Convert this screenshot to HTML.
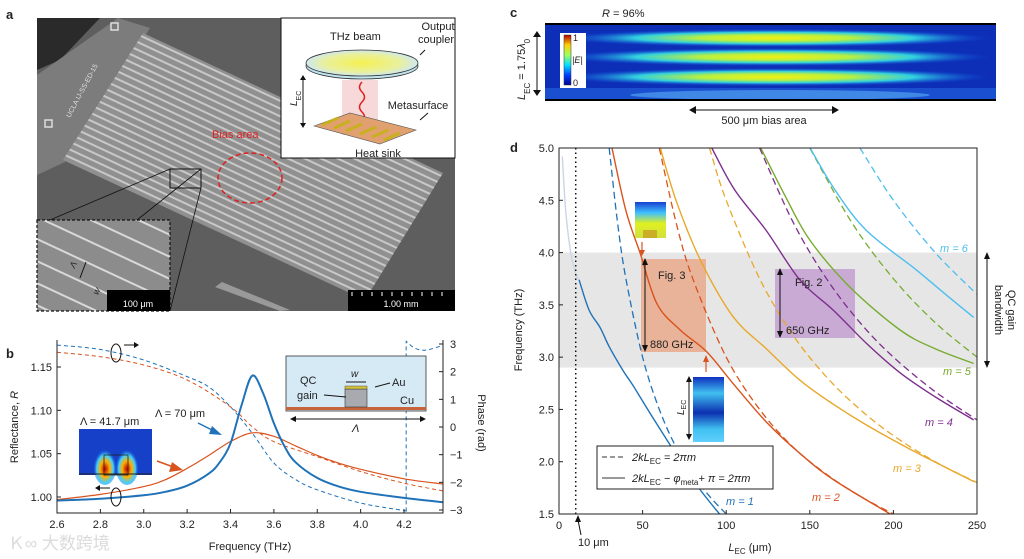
<!DOCTYPE html>
<html><head><meta charset="utf-8">
<style>
body{margin:0;background:#fff;}
svg{display:block;font-family:"Liberation Sans",sans-serif;}
text{fill:#222;}
</style></head>
<body>
<svg id="root" width="1024" height="559" viewBox="0 0 1024 559">
<defs>
  <pattern id="stripes" width="7" height="7" patternUnits="userSpaceOnUse" patternTransform="rotate(25)">
    <rect width="7" height="7" fill="#909090"/>
    <rect width="7" height="2" fill="#c8c8c8"/>
  </pattern>
  <pattern id="stripes2" width="20" height="20" patternUnits="userSpaceOnUse" patternTransform="rotate(25)">
    <rect width="20" height="20" fill="#8c8c8c"/>
    <rect width="20" height="2" fill="#d8d8d8"/>
  </pattern>
  <radialGradient id="band" cx="50%" cy="50%" r="50%">
    <stop offset="0" stop-color="#f5f010"/>
    <stop offset="0.35" stop-color="#b8f040"/>
    <stop offset="0.65" stop-color="#30d0e0"/>
    <stop offset="1" stop-color="#1050e0" stop-opacity="0"/>
  </radialGradient>
  <linearGradient id="jet" x1="0" y1="1" x2="0" y2="0">
    <stop offset="0" stop-color="#00008f"/><stop offset="0.2" stop-color="#0040ff"/>
    <stop offset="0.4" stop-color="#00e0ff"/><stop offset="0.6" stop-color="#a0ff60"/>
    <stop offset="0.8" stop-color="#ffd000"/><stop offset="1" stop-color="#b00000"/>
  </linearGradient>
  <linearGradient id="fieldA" x1="0" y1="0" x2="0" y2="1">
    <stop offset="0" stop-color="#1540d0"/><stop offset="0.3" stop-color="#40c0ff"/>
    <stop offset="0.6" stop-color="#e0f020"/><stop offset="1" stop-color="#d0e040"/>
  </linearGradient>
  <linearGradient id="fieldB" x1="0" y1="0" x2="0" y2="1">
    <stop offset="0" stop-color="#1030c0"/><stop offset="0.25" stop-color="#40c0f0"/>
    <stop offset="0.55" stop-color="#0b2fb0"/><stop offset="0.8" stop-color="#40c0f0"/><stop offset="1" stop-color="#60d0ff"/>
  </linearGradient>
  <radialGradient id="hot" cx="50%" cy="60%" r="50%">
    <stop offset="0" stop-color="#c00000"/><stop offset="0.4" stop-color="#ffb000"/>
    <stop offset="0.7" stop-color="#40d0ff"/><stop offset="1" stop-color="#1040d0" stop-opacity="0"/>
  </radialGradient>
  <radialGradient id="beam" cx="50%" cy="50%" r="50%">
    <stop offset="0" stop-color="#f6f050"/><stop offset="0.7" stop-color="#e8f0a0"/><stop offset="1" stop-color="#cfe8f0"/>
  </radialGradient>
  <clipPath id="clipC"><rect x="545" y="23" width="451" height="77"/></clipPath>
</defs>

<text x="6" y="19" font-size="13" font-weight="bold">a</text>
<text x="6" y="358" font-size="13" font-weight="bold">b</text>
<text x="510" y="17" font-size="13" font-weight="bold">c</text>
<text x="510" y="152" font-size="13" font-weight="bold">d</text>

<g>
  <rect x="37" y="18" width="418" height="293" fill="#5e5e5e"/>
  <path d="M37,18 L100,18 L60,60 L37,70Z" fill="#2a2a2a"/>
  <polygon points="37,75 118,18 150,28 65,162 37,175" fill="#7c7c7c"/>
  <polygon points="143,33 443,173 365,300 63,160" fill="url(#stripes)"/>
  <text x="70" y="118" font-size="7" transform="rotate(-62 70 118)" style="fill:#ddd">UCLA IJ-SS-ED-15</text>
  <rect x="45" y="120" width="7" height="7" fill="none" stroke="#ddd" stroke-width="1.5"/>
  <rect x="111" y="23" width="7" height="7" fill="none" stroke="#ddd" stroke-width="1.5"/>
  <polygon points="215,287 222,282 290,310 280,311" fill="#999"/>
  <rect x="170" y="169" width="31" height="19" fill="none" stroke="#111" stroke-width="1"/>
  <line x1="170" y1="169" x2="50" y2="220" stroke="#111" stroke-width="0.8"/>
  <line x1="201" y1="169" x2="137" y2="220" stroke="#111" stroke-width="0.8"/>
  <line x1="201" y1="188" x2="170" y2="311" stroke="#111" stroke-width="0.8"/>
  <ellipse cx="250" cy="178" rx="32" ry="25" fill="none" stroke="#e02020" stroke-width="1.5" stroke-dasharray="5 3"/>
  <text x="212" y="138" font-size="11" style="fill:#e02020">Bias area</text>
</g>
<g>
  <rect x="37" y="220" width="133" height="91" fill="url(#stripes2)" stroke="#111" stroke-width="1.2" stroke-dasharray="3 2"/>
  <line x1="86" y1="262" x2="80" y2="278" stroke="#111" stroke-width="1"/>
  <text x="73" y="266" font-size="9" font-style="italic" transform="rotate(-65 76 266)">Λ</text>
  <text x="92" y="294" font-size="9" font-style="italic" transform="rotate(-65 96 290)">w</text>
  <rect x="107" y="290" width="63" height="21" fill="#000"/>
  <text x="138" y="307" font-size="9" text-anchor="middle" style="fill:#fff">100 μm</text>
</g>
<rect x="348" y="290" width="107" height="21" fill="#000"/>
<text x="401" y="307" font-size="9" text-anchor="middle" style="fill:#fff">1.00 mm</text>
<g stroke="#fff" stroke-width="1">
  <line x1="352" y1="292" x2="352" y2="296"/><line x1="362" y1="292" x2="362" y2="296"/><line x1="372" y1="292" x2="372" y2="296"/><line x1="382" y1="292" x2="382" y2="296"/><line x1="392" y1="292" x2="392" y2="296"/><line x1="402" y1="292" x2="402" y2="296"/><line x1="412" y1="292" x2="412" y2="296"/><line x1="422" y1="292" x2="422" y2="296"/><line x1="432" y1="292" x2="432" y2="296"/><line x1="442" y1="292" x2="442" y2="296"/>
</g>
<g>
  <rect x="281" y="18" width="174" height="140" fill="#fff" stroke="#111" stroke-width="1"/>
  <rect x="342" y="80" width="36" height="55" fill="#f4c0c0" opacity="0.6"/>
  <ellipse cx="362" cy="66" rx="56" ry="13" fill="#bfe4ee" stroke="#333" stroke-width="0.8"/>
  <ellipse cx="362" cy="63" rx="56" ry="13" fill="url(#beam)" stroke="#333" stroke-width="0.8"/>
  <path d="M362,82 q-5,5 0,10 q5,5 0,10 q-5,5 0,10 q5,5 0,10 q-5,5 0,10" fill="none" stroke="#e02020" stroke-width="1.5"/>
  <polygon points="314,126 350,113 416,130 380,144" fill="#e0a070" stroke="#555" stroke-width="0.6"/>
  <g stroke="#c8b020" stroke-width="3"><line x1="322" y1="125" x2="338" y2="118"/><line x1="334" y1="128" x2="350" y2="121"/><line x1="346" y1="131" x2="362" y2="124"/><line x1="360" y1="134" x2="376" y2="127"/><line x1="372" y1="137" x2="388" y2="130"/><line x1="384" y1="140" x2="400" y2="133"/></g>
  <text x="330" y="40" font-size="11">THz beam</text>
  <text x="438" y="30" font-size="11" text-anchor="middle">Output</text>
  <text x="436" y="43" font-size="11" text-anchor="middle">coupler</text>
  <text x="418" y="109" font-size="11" text-anchor="middle">Metasurface</text>
  <text x="378" y="157" font-size="11" text-anchor="middle">Heat sink</text>
  <line x1="303" y1="77" x2="303" y2="126" stroke="#111" stroke-width="1"/>
  <path d="M300,80 L303,75 L306,80Z M300,123 L303,128 L306,123Z" fill="#111"/>
  <text x="297" y="106" font-size="10" font-style="italic" transform="rotate(-90 297 106)">L<tspan font-size="7" baseline-shift="sub" font-style="normal">EC</tspan></text>
  <line x1="420" y1="120" x2="428" y2="113" stroke="#111"/>
  <line x1="420" y1="55" x2="425" y2="50" stroke="#111"/>
</g>

<g>
  <g clip-path="url(#clipC)">
    <rect x="545" y="23" width="451" height="77" fill="#0d2fb8"/>
    <ellipse cx="775" cy="38" rx="215" ry="9" fill="url(#band)"/>
    <ellipse cx="775" cy="57" rx="215" ry="9" fill="url(#band)"/>
    <ellipse cx="775" cy="77" rx="215" ry="9" fill="url(#band)"/>
    <rect x="545" y="88" width="451" height="12" fill="#1a50d0"/>
    <ellipse cx="780" cy="95" rx="150" ry="5" fill="#50a0f0" opacity="0.7"/>
  </g>
  <rect x="545" y="23" width="451" height="2" fill="#000"/>
  <rect x="545" y="99" width="451" height="2" fill="#000"/>
  <rect x="560" y="33" width="26" height="55" fill="#fff"/>
  <rect x="564" y="35" width="7" height="50" fill="url(#jet)" stroke="#333" stroke-width="0.5"/>
  <text x="573" y="41" font-size="9">1</text>
  <text x="572" y="63" font-size="9" font-style="italic">|E|</text>
  <text x="573" y="86" font-size="9">0</text>
  <text x="602" y="17" font-size="11"><tspan font-style="italic">R</tspan> = 96%</text>
  <line x1="537" y1="33" x2="537" y2="94" stroke="#111" stroke-width="1"/>
  <path d="M533,37 L537,31 L541,37Z M533,90 L537,96 L541,90Z" fill="#111"/>
  <text x="525" y="100" font-size="11" transform="rotate(-90 525 100)"><tspan font-style="italic">L</tspan><tspan font-size="8" baseline-shift="sub">EC</tspan> = 1.75<tspan font-style="italic">λ</tspan><tspan font-size="8" baseline-shift="sub">0</tspan></text>
  <line x1="692" y1="110" x2="836" y2="110" stroke="#111" stroke-width="1"/>
  <path d="M696,106 L689,110 L696,114Z M832,106 L839,110 L832,114Z" fill="#111"/>
  <text x="764" y="124" font-size="11" text-anchor="middle">500 μm bias area</text>
</g>

<g id="chartB"></g>
<g id="chartD"></g>
<text x="8" y="549" font-size="17" style="fill:#ccc" opacity="0.7">Ｋ∞ 大数跨境</text>
</svg>

<script>
var bFreq = [2.6,2.8,3.0,3.1,3.2,3.3,3.35,3.4,3.45,3.5,3.55,3.6,3.65,3.7,3.8,3.9,4.0,4.2,4.38];
var bReflBlue = [0.996,0.998,1.002,1.006,1.013,1.027,1.040,1.062,1.105,1.140,1.120,1.085,1.058,1.040,1.022,1.012,1.006,0.999,0.994];
var bFreqOrange = [2.6,2.8,3.0,3.1,3.2,3.3,3.4,3.5,3.6,3.7,3.8,3.9,4.0,4.2,4.38];
var bReflOrange = [0.997,1.003,1.012,1.020,1.033,1.048,1.064,1.074,1.070,1.059,1.048,1.039,1.032,1.021,1.015];
var bPhaseFreqBlue1 = [2.6,2.8,3.0,3.2,3.3,3.4,3.5,3.6,3.7,3.8,4.0,4.2,4.21];
var bPhaseBlue1 = [2.96,2.8,2.42,1.82,1.45,0.73,-0.22,-1.3,-1.9,-2.27,-2.75,-3.02,-3.05];
var bPhaseFreqBlue2 = [4.21,4.25,4.3,4.38];
var bPhaseBlue2 = [3.1,2.85,2.78,2.95];
var bPhaseFreqOrange = [2.6,2.8,3.0,3.2,3.4,3.5,3.6,3.8,4.0,4.2,4.38];
var bPhaseOrange = [2.7,2.54,2.24,1.7,0.73,0.01,-0.53,-1.07,-1.61,-2.03,-2.31];
var bXTicks = [2.6,2.8,3.0,3.2,3.4,3.6,3.8,4.0,4.2];
var bYTicks = [1.00,1.05,1.10,1.15];
var bY2Ticks = [3,2,1,0,-1,-2,-3];

var dXTicks = [0,50,100,150,200,250];
var dYTicks = [1.5,2.0,2.5,3.0,3.5,4.0,4.5,5.0];
var dashL1 = [30,35,40,50,60,70,80,90,100];
var dashF1 = [5.0,4.29,3.75,3.0,2.5,2.14,1.88,1.67,1.5];
var dashL2 = [60,70,80,100,120,140,160,180,200];
var dashF2 = [5.0,4.29,3.75,3.0,2.5,2.14,1.88,1.67,1.5];
var dashL3 = [90,100,120,140,160,180,200,225,250];
var dashF3 = [5.0,4.5,3.75,3.21,2.81,2.5,2.25,2.0,1.8];
var dashL4 = [120,140,160,180,200,225,250];
var dashF4 = [5.0,4.29,3.75,3.33,3.0,2.67,2.4];
var dashL5 = [150,175,200,225,250];
var dashF5 = [5.0,4.29,3.75,3.33,3.0];
var dashL6 = [180,200,225,250];
var dashF6 = [5.0,4.5,4.0,3.6];
var solidL0 = [2,4,7,10,12];
var solidF0 = [4.92,4.4,4.0,3.8,3.74];
var solidL1 = [12,18,24.7,30,38,44.6,55,64.5,75,85,96];
var solidF1 = [3.74,3.45,3.28,3.1,2.88,2.72,2.45,2.21,1.95,1.72,1.5];
var solidL2 = [31.7,40,48.6,58.6,72.5,88.4,104,124,144,164,198];
var solidF2 = [5.0,4.4,3.99,3.51,3.26,3.05,2.75,2.38,2.08,1.83,1.5];
var solidL3 = [60.6,70,84.5,104,124,144,164,184,210,248];
var solidF3 = [5.0,4.5,3.93,3.39,3.08,2.78,2.55,2.35,2.12,1.81];
var solidL4 = [91.4,105,124,144,164,184,204,225,248];
var solidF4 = [5.0,4.6,4.21,3.74,3.45,3.13,2.85,2.62,2.40];
var solidL5 = [120.7,135,150,174,204,225,248];
var solidF5 = [5.0,4.55,4.12,3.67,3.26,3.08,2.94];
var solidL6 = [150.2,165,184,214,235,248];
var solidF6 = [5.0,4.6,4.21,3.83,3.55,3.38];
var modeColors = ['#c9d6e8','#1f72b8','#d9531e','#e8a82a','#7e2f8e','#77ac30','#4dbeee'];

var NS = 'http://www.w3.org/2000/svg';
function mk(parent, tag, attrs, txt){
  var e = document.createElementNS(NS, tag);
  for (var k in attrs) e.setAttribute(k, attrs[k]);
  if (txt !== undefined) e.textContent = txt;
  parent.appendChild(e); return e;
}
function smooth(pts){
  var d = 'M' + pts[0][0].toFixed(1) + ',' + pts[0][1].toFixed(1);
  for (var i = 0; i < pts.length - 1; i++){
    var p0 = pts[i-1] || pts[i], p1 = pts[i], p2 = pts[i+1], p3 = pts[i+2] || p2;
    var c1x = p1[0] + (p2[0]-p0[0])/6, c1y = p1[1] + (p2[1]-p0[1])/6;
    var c2x = p2[0] - (p3[0]-p1[0])/6, c2y = p2[1] - (p3[1]-p1[1])/6;
    d += ' C' + c1x.toFixed(1)+','+c1y.toFixed(1)+' '+c2x.toFixed(1)+','+c2y.toFixed(1)+' '+p2[0].toFixed(1)+','+p2[1].toFixed(1);
  }
  return d;
}

(function(){
  var g = document.getElementById('chartB');
  var L = 57, R = 443, T = 340, B = 513;
  function bx(f){ return 57 + (f - 2.6) * (347 / 1.6); }
  function by(r){ return 497 - (r - 1.0) * (130 / 0.15); }
  function by2(p){ return 427 - p * (83 / 3); }
  function pts(xs, ys, fy){ return xs.map(function(x,i){ return [bx(x), fy(ys[i])]; }); }

  var ln;
  ln = mk(g,'path',{d:smooth(pts(bPhaseFreqBlue1,bPhaseBlue1,by2)),fill:'none',stroke:'#1f72b8','stroke-width':1,'stroke-dasharray':'4 3'});
  
  
  ln = mk(g,'path',{d:'M'+bx(4.21)+','+by2(-3.05)+' L'+bx(4.21)+','+by2(3.1)+' '+smooth(pts(bPhaseFreqBlue2,bPhaseBlue2,by2)).slice(1).replace(/^/,'L'),fill:'none',stroke:'#1f72b8','stroke-width':1,'stroke-dasharray':'4 3'});
  
  
  ln = mk(g,'path',{d:smooth(pts(bPhaseFreqOrange,bPhaseOrange,by2)),fill:'none',stroke:'#d9531e','stroke-width':1,'stroke-dasharray':'4 3'});
  
  
  ln = mk(g,'path',{d:smooth(pts(bFreqOrange,bReflOrange,by)),fill:'none',stroke:'#d9531e','stroke-width':1.2});
  
  
  ln = mk(g,'path',{d:smooth(pts(bFreq,bReflBlue,by)),fill:'none',stroke:'#1f72b8','stroke-width':2});
  
  

  var ax = mk(g,'path',{d:'M'+L+','+T+' L'+L+','+B+' L'+R+','+B+' L'+R+','+T,fill:'none',stroke:'#222','stroke-width':1});
  
  
  bXTicks.forEach(function(t){
    var x = bx(t);
    mk(g,'line',{x1:x,y1:B,x2:x,y2:B-4,stroke:'#222'});
    var tl = mk(g,'text',{x:x,y:B+15,'font-size':11,'text-anchor':'middle'}, t.toFixed(1));
    
    
  });
  bYTicks.forEach(function(t){
    var y = by(t);
    mk(g,'line',{x1:L,y1:y,x2:L+4,y2:y,stroke:'#222'});
    var tl = mk(g,'text',{x:L-5,y:y+4,'font-size':11,'text-anchor':'end'}, t.toFixed(2));
    
    
  });
  bY2Ticks.forEach(function(t){
    var y = by2(t);
    mk(g,'line',{x1:R,y1:y,x2:R-4,y2:y,stroke:'#222'});
    var tl = mk(g,'text',{x:R+7,y:y+4,'font-size':11}, t < 0 ? '\u2212' + (-t) : String(t));
    
    
  });
  var t;
  t = mk(g,'text',{x:250,y:550,'font-size':11,'text-anchor':'middle'},'Frequency (THz)');
  
  
  t = mk(g,'text',{x:18,y:427,'font-size':11,'text-anchor':'middle',transform:'rotate(-90 18 427)'},'Reflectance, ');
  mk(t,'tspan',{'font-style':'italic'},'R');
  
  
  t = mk(g,'text',{x:478,y:423,'font-size':11,'text-anchor':'middle',transform:'rotate(90 478 423)'},'Phase (rad)');
  
  

  mk(g,'ellipse',{cx:116,cy:353,rx:5,ry:9,fill:'none',stroke:'#111'});
  mk(g,'line',{x1:124,y1:345,x2:136,y2:345,stroke:'#111'});
  mk(g,'path',{d:'M134,342 L139,345 L134,348Z',fill:'#111'});
  mk(g,'ellipse',{cx:116,cy:497,rx:5,ry:9,fill:'none',stroke:'#111'});
  mk(g,'line',{x1:98,y1:488,x2:110,y2:488,stroke:'#111'});
  mk(g,'path',{d:'M100,485 L95,488 L100,491Z',fill:'#111'});
  t = mk(g,'text',{x:80,y:425,'font-size':11},'\u039B = 41.7 \u03BCm');
  
  
  t = mk(g,'text',{x:155,y:417,'font-size':11},'\u039B = 70 \u03BCm');
  
  
  mk(g,'line',{x1:198,y1:423,x2:216,y2:432,stroke:'#1f72b8','stroke-width':1.5});
  mk(g,'path',{d:'M212,426 L222,435 L209,434Z',fill:'#1f72b8'});
  mk(g,'line',{x1:157,y1:461,x2:176,y2:468,stroke:'#d9531e','stroke-width':1.5});
  mk(g,'path',{d:'M172,462 L183,470 L169,472Z',fill:'#d9531e'});
  var fi = mk(g,'rect',{x:79,y:429,width:73,height:46,fill:'#1640c8'});
  
  
  mk(g,'ellipse',{cx:105,cy:465,rx:12,ry:20,fill:'url(#hot)'});
  mk(g,'ellipse',{cx:127,cy:465,rx:12,ry:20,fill:'url(#hot)'});
  mk(g,'rect',{x:104,y:455,width:24,height:20,fill:'none',stroke:'#222','stroke-width':0.8});
  mk(g,'line',{x1:79,y1:474,x2:152,y2:474,stroke:'#222'});
  var si = mk(g,'rect',{x:286,y:356,width:140,height:55,fill:'#d6eaf6',stroke:'#333','stroke-width':0.8});
  
  
  mk(g,'rect',{x:286,y:407,width:140,height:3,fill:'#c8643a'});
  mk(g,'rect',{x:345,y:389,width:22,height:18,fill:'#a9a9b0',stroke:'#333','stroke-width':0.6});
  mk(g,'rect',{x:345,y:386,width:22,height:3,fill:'#d6c23a',stroke:'#333','stroke-width':0.4});
  mk(g,'text',{x:300,y:384,'font-size':11},'QC');
  mk(g,'text',{x:297,y:399,'font-size':11},'gain');
  mk(g,'text',{x:351,y:377,'font-size':10,'font-style':'italic'},'w');
  mk(g,'line',{x1:346,y1:382,x2:366,y2:382,stroke:'#111'});
  mk(g,'text',{x:392,y:386,'font-size':11},'Au');
  mk(g,'line',{x1:375,y1:387,x2:390,y2:383,stroke:'#111'});
  mk(g,'text',{x:400,y:404,'font-size':11},'Cu');
  mk(g,'line',{x1:324,y1:395,x2:346,y2:397,stroke:'#111'});
  mk(g,'line',{x1:292,y1:419,x2:424,y2:419,stroke:'#111'});
  mk(g,'path',{d:'M296,416 L290,419 L296,422Z M420,416 L426,419 L420,422Z',fill:'#111'});
  mk(g,'text',{x:352,y:432,'font-size':11,'font-style':'italic'},'\u039B');
})();

(function(){
  var g = document.getElementById('chartD');
  var L = 559, R = 977, T = 148, B = 514;
  function dx(v){ return 559 + v * (418 / 250); }
  function dy(f){ return 514 - (f - 1.5) * (366 / 3.5); }
  function pts(xs, ys){ return xs.map(function(x,i){ return [dx(x), dy(ys[i])]; }); }

  var band = mk(g,'rect',{x:L,y:dy(4.0),width:R-L,height:dy(2.9)-dy(4.0),fill:'#e6e6e6'});
  
  
  var r1 = mk(g,'rect',{x:641,y:259,width:65,height:93,fill:'#e8a98a',opacity:0.85});
  
  
  var r2 = mk(g,'rect',{x:775,y:269,width:80,height:69,fill:'#c4a3d2',opacity:0.9});
  
  

  var dashedL = [dashL1,dashL2,dashL3,dashL4,dashL5,dashL6];
  var dashedF = [dashF1,dashF2,dashF3,dashF4,dashF5,dashF6];
  var solL = [solidL0,solidL1,solidL2,solidL3,solidL4,solidL5,solidL6];
  var solF = [solidF0,solidF1,solidF2,solidF3,solidF4,solidF5,solidF6];
  var clip = mk(g,'clipPath',{id:'clipD'});
  mk(clip,'rect',{x:L,y:T,width:R-L,height:B-T});
  var cg = mk(g,'g',{'clip-path':'url(#clipD)'});
  for (var i = 0; i < 6; i++){
    var p = mk(cg,'path',{d:smooth(pts(dashedL[i],dashedF[i])),fill:'none',stroke:modeColors[i+1],'stroke-width':1.3,'stroke-dasharray':'7 4'});
    
    
  }
  for (var j = 0; j < 7; j++){
    var s = mk(cg,'path',{d:smooth(pts(solL[j],solF[j])),fill:'none',stroke:modeColors[j],'stroke-width':1.4});
    
    
  }
  var vl = mk(g,'line',{x1:dx(10),y1:T,x2:dx(10),y2:B,stroke:'#111','stroke-width':1.5,'stroke-dasharray':'1.5 3'});
  
  

  var fr = mk(g,'rect',{x:L,y:T,width:R-L,height:B-T,fill:'none',stroke:'#222','stroke-width':1});
  
  
  dXTicks.forEach(function(t){
    var x = dx(t);
    mk(g,'line',{x1:x,y1:B,x2:x,y2:B-4,stroke:'#222'});
    var tl = mk(g,'text',{x:x,y:B+15,'font-size':11,'text-anchor':'middle'}, String(t));
    
    
  });
  dYTicks.forEach(function(t){
    var y = dy(t);
    mk(g,'line',{x1:L,y1:y,x2:L+4,y2:y,stroke:'#222'});
    var tl = mk(g,'text',{x:L-5,y:y+4,'font-size':11,'text-anchor':'end'}, t.toFixed(1));
    
    
  });
  var t;
  t = mk(g,'text',{x:750,y:551,'font-size':11,'text-anchor':'middle'});
  mk(t,'tspan',{'font-style':'italic'},'L');
  mk(t,'tspan',{'font-size':8,dy:3},'EC');
  mk(t,'tspan',{dy:-3},' (\u03BCm)');
  
  
  t = mk(g,'text',{x:522,y:330,'font-size':11,'text-anchor':'middle',transform:'rotate(-90 522 330)'},'Frequency (THz)');
  
  
  t = mk(g,'text',{x:578,y:546,'font-size':11},'10 \u03BCm');
  mk(g,'line',{x1:581,y1:535,x2:578,y2:520,stroke:'#111'});
  mk(g,'path',{d:'M575,522 L578,515 L581,522Z',fill:'#111'});

  var labels = [['m = 1',726,505,1],['m = 2',812,501,2],['m = 3',893,472,3],['m = 4',925,426,4],['m = 5',943,375,5],['m = 6',940,252,6]];
  labels.forEach(function(l){
    var e = mk(g,'text',{x:l[1],y:l[2],'font-size':11,'font-style':'italic',style:'fill:'+modeColors[l[3]]}, l[0]);
    
    
  });

  mk(g,'line',{x1:645,y1:262,x2:645,y2:348,stroke:'#111'});
  mk(g,'path',{d:'M642,265 L645,258 L648,265Z M642,345 L645,352 L648,345Z',fill:'#111'});
  mk(g,'text',{x:658,y:279,'font-size':11},'Fig. 3');
  mk(g,'text',{x:650,y:348,'font-size':11},'880 GHz');
  mk(g,'line',{x1:780,y1:272,x2:780,y2:334,stroke:'#111'});
  mk(g,'path',{d:'M777,275 L780,268 L783,275Z M777,331 L780,338 L783,331Z',fill:'#111'});
  mk(g,'text',{x:795,y:286,'font-size':11},'Fig. 2');
  mk(g,'text',{x:786,y:334,'font-size':11},'650 GHz');
  var i1 = mk(g,'rect',{x:635,y:202,width:31,height:36,fill:'url(#fieldA)'});
  
  
  mk(g,'rect',{x:643,y:230,width:14,height:8,fill:'#c8a020',opacity:0.8});
  mk(g,'line',{x1:642,y1:242,x2:642,y2:252,stroke:'#d9531e','stroke-width':1.2});
  mk(g,'path',{d:'M639,250 L642,256 L645,250Z',fill:'#d9531e'});
  var i2 = mk(g,'rect',{x:693,y:377,width:31,height:65,fill:'url(#fieldB)'});
  
  
  mk(g,'line',{x1:706,y1:372,x2:706,y2:360,stroke:'#d9531e','stroke-width':1.2});
  mk(g,'path',{d:'M703,362 L706,355 L709,362Z',fill:'#d9531e'});
  mk(g,'line',{x1:689,y1:379,x2:689,y2:437,stroke:'#111'});
  mk(g,'path',{d:'M686,382 L689,376 L692,382Z M686,434 L689,440 L692,434Z',fill:'#111'});
  t = mk(g,'text',{x:684,y:415,'font-size':10,'font-style':'italic',transform:'rotate(-90 684 415)'},'L');
  mk(t,'tspan',{'font-size':7,'font-style':'normal',dy:2},'EC');
  var lg = mk(g,'rect',{x:597,y:446,width:176,height:43,fill:'#fff',stroke:'#222','stroke-width':1});
  
  
  mk(g,'line',{x1:602,y1:457,x2:625,y2:457,stroke:'#333','stroke-width':1,'stroke-dasharray':'5 3'});
  mk(g,'line',{x1:602,y1:478,x2:625,y2:478,stroke:'#333','stroke-width':1});
  t = mk(g,'text',{x:632,y:461,'font-size':11,'font-style':'italic'},'2kL');
  mk(t,'tspan',{'font-size':8,'font-style':'normal',dy:3},'EC');
  mk(t,'tspan',{dy:-3},' = 2\u03C0m');
  
  
  t = mk(g,'text',{x:632,y:482,'font-size':11,'font-style':'italic'},'2kL');
  mk(t,'tspan',{'font-size':8,'font-style':'normal',dy:3},'EC');
  mk(t,'tspan',{dy:-3},' \u2212 \u03C6');
  mk(t,'tspan',{'font-size':8,'font-style':'normal',dy:3},'meta');
  mk(t,'tspan',{dy:-3},'+ \u03C0 = 2\u03C0m');
  
  
  mk(g,'line',{x1:987,y1:256,x2:987,y2:364,stroke:'#111'});
  mk(g,'path',{d:'M984,259 L987,252 L990,259Z M984,361 L987,368 L990,361Z',fill:'#111'});
  t = mk(g,'text',{x:1008,y:310,'font-size':11,'text-anchor':'middle',transform:'rotate(90 1008 310)'},'QC gain');
  
  
  mk(g,'text',{x:995,y:310,'font-size':11,'text-anchor':'middle',transform:'rotate(90 995 310)'},'bandwidth');
})();
</script>
</body></html>
